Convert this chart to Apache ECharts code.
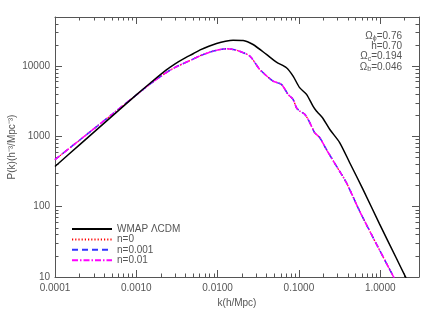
<!DOCTYPE html>
<html>
<head>
<meta charset="utf-8">
<script src="https://cdn.jsdelivr.net/npm/echarts@6/dist/echarts.min.js"></script>
<style>html,body{margin:0;padding:0;background:#fff}#c{width:436px;height:312px}</style>
</head>
<body>
<div id="c"></div>
<script>
// ---- data ----
const kBlack = [0.0001, 0.0002, 0.0005, 0.001, 0.0015, 0.0023, 0.003, 0.0038, 0.005, 0.0061, 0.0078, 0.0097, 0.0125, 0.0155, 0.0206, 0.0273, 0.0399, 0.0529, 0.0703, 0.0848, 0.102, 0.124, 0.149, 0.164, 0.180, 0.198, 0.239, 0.317, 0.420, 0.612, 0.980, 1.57, 2.04, 2.4];
const pBlack = [374, 759, 1930, 3900, 5800, 8700, 10800, 12700, 15000, 17000, 19200, 21000, 22600, 23400, 23200, 20300, 14660, 11400, 9490, 7210, 4940, 3970, 2700, 2300, 2050, 1800, 1265, 818, 426, 178, 57, 18.8, 10.1, 6.9];
const kColored = [0.0001, 0.0002, 0.0005, 0.001, 0.0015, 0.0023, 0.003, 0.0038, 0.005, 0.0061, 0.0088, 0.0129, 0.0171, 0.0249, 0.033, 0.0481, 0.061, 0.0735, 0.0847, 0.0931, 0.102, 0.118, 0.136, 0.156, 0.180, 0.217, 0.288, 0.383, 0.557, 0.811, 1.19, 1.43, 1.7];
const pN0    = [467, 883, 2050, 3880, 5640, 8000, 9600, 10900, 12600, 14050, 16300, 17650, 16870, 13870, 8980, 6120, 5500, 3970, 3370, 2570, 2300, 2070, 1575, 1135, 964, 658, 382, 221, 87, 37, 15.8, 10.5, 7.1];
const pN0001 = [467, 883, 2050, 3880, 5640, 8000, 9600, 10900, 12600, 14050, 16300, 17650, 16870, 13870, 8980, 6120, 5500, 3970, 3370, 2570, 2300, 2070, 1575, 1135, 964, 658, 382, 221, 87, 37, 15.8, 10.5, 7.1];
const pN001  = [467, 883, 2050, 3880, 5640, 8000, 9600, 10900, 12600, 14050, 16300, 17650, 16870, 13870, 8980, 6120, 5500, 3970, 3370, 2570, 2300, 2070, 1575, 1135, 964, 658, 382, 221, 87, 37, 15.8, 10.5, 7.1];
const seriesNames = ['WMAP ΛCDM', 'n=0', 'n=0.001', 'n=0.01'];
const xMajor = [0.0001, 0.001, 0.01, 0.1, 1];
const xMinor = [0.0002,0.0003,0.0004,0.0005,0.0006,0.0007,0.0008,0.0009,
                0.002,0.003,0.004,0.005,0.006,0.007,0.008,0.009,
                0.02,0.03,0.04,0.05,0.06,0.07,0.08,0.09,
                0.2,0.3,0.4,0.5,0.6,0.7,0.8,0.9,2,3];
const yMajor = [10, 100, 1000, 10000];
const yMinor = [20,30,40,50,60,70,80,90,200,300,400,500,600,700,800,900,
                2000,3000,4000,5000,6000,7000,8000,9000,20000,30000,40000,50000];
const params = [['Ω','ϕ','=0.76'], ['','','h=0.70'], ['Ω','c','=0.194'], ['Ω','b','=0.046']];

const zip = (a, b) => a.map((v, i) => [v, b[i]]);
const AX = '#555';
const FONT = 'Liberation Sans, Arial, sans-serif';
const X_MIN = 0.0001, X_MAX = 3, Y_MIN = 10, Y_MAX = 50000;

function xAx(pos, ticks, len, main) {
  return {
    type: 'log', logBase: 10, min: X_MIN, max: X_MAX, position: pos, gridIndex: 0,
    axisLine: { show: main, lineStyle: { color: AX, width: 1 } },
    axisTick: { show: true, inside: true, length: len, customValues: ticks, lineStyle: { color: AX } },
    axisLabel: main && pos === 'bottom' ? {
      show: true, customValues: xMajor, color: AX, fontSize: 10, fontFamily: FONT, margin: 6,
      formatter: v => Number(v).toFixed(4)
    } : { show: false },
    splitLine: { show: false }, minorTick: { show: false },
    name: main && pos === 'bottom' ? 'k(h/Mpc)' : '',
    nameLocation: 'middle', nameGap: 16,
    nameTextStyle: { color: AX, fontSize: 10, fontFamily: FONT }
  };
}
function yAx(pos, ticks, len, main) {
  return {
    type: 'log', logBase: 10, min: Y_MIN, max: Y_MAX, position: pos, gridIndex: 0,
    axisLine: { show: main, lineStyle: { color: AX, width: 1 } },
    axisTick: { show: true, inside: true, length: len, customValues: ticks, lineStyle: { color: AX } },
    axisLabel: main && pos === 'left' ? {
      show: true, customValues: yMajor, color: AX, fontSize: 10, fontFamily: FONT, margin: 5,
      formatter: v => String(Math.round(v))
    } : { show: false },
    splitLine: { show: false }, minorTick: { show: false },
    name: main && pos === 'left' ? 'P(k)(h⁻³/Mpc⁻³)' : '',
    nameLocation: 'middle', nameGap: 38, nameMoveOverlap: false,
    nameTextStyle: { color: AX, fontSize: 10, fontFamily: FONT }
  };
}

const chart = echarts.init(document.getElementById('c'), null, { renderer: 'canvas' });
const richTxt = {
  a: { fontSize: 10, fontFamily: FONT, fill: AX, color: AX },
  s: { fontSize: 7, fontFamily: FONT, fill: AX, color: AX, padding: [4, 0, 0, 0] }
};
const graphics = params.map((p, i) => ({
  type: 'text', right: 34, top: 31 + i * 10.3,
  style: {
    text: (p[0] ? '{a|' + p[0] + '}' : '') + (p[1] ? '{s|' + p[1] + '}' : '') + '{a|' + p[2] + '}',
    rich: richTxt, fill: AX, font: '10px ' + FONT
  }
}));

chart.setOption({
  animation: false,
  backgroundColor: '#fff',
  grid: { left: 55, right: 17, top: 17, bottom: 35, outerBoundsMode: 'none', containLabel: false },
  xAxis: [xAx('bottom', xMajor, 7, true), xAx('bottom', xMinor, 3.5, false),
          xAx('top', xMajor, 7, true), xAx('top', xMinor, 3.5, false)],
  yAxis: [yAx('left', yMajor, 7, true), yAx('left', yMinor, 3.5, false),
          yAx('right', yMajor, 7, true), yAx('right', yMinor, 3.5, false)],
  legend: {
    orient: 'vertical', left: 66, top: 219, itemWidth: 40, itemHeight: 10, itemGap: 0.4,
    data: seriesNames,
    itemStyle: { opacity: 0, borderWidth: 0 },
    textStyle: { color: AX, fontSize: 10, fontFamily: FONT, lineHeight: 10 }
  },
  graphic: graphics,
  series: [
    { name: seriesNames[1], type: 'line', data: zip(kColored, pN0), showSymbol: false, symbol: 'none', smooth: 0.25,
      lineStyle: { color: '#ff0000', width: 1.3, type: [1.2, 2] }, itemStyle: { color: '#ff0000' }, z: 3 },
    { name: seriesNames[2], type: 'line', data: zip(kColored, pN0001), showSymbol: false, symbol: 'none', smooth: 0.25,
      lineStyle: { color: '#3333ff', width: 1.5, type: [6, 4] }, itemStyle: { color: '#3333ff' }, z: 4 },
    { name: seriesNames[3], type: 'line', data: zip(kColored, pN001), showSymbol: false, symbol: 'none', smooth: 0.25,
      lineStyle: { color: '#ff00ff', width: 1.5, type: [6, 2, 1.5, 2] }, itemStyle: { color: '#ff00ff' }, z: 5 },
    { name: seriesNames[0], type: 'line', data: zip(kBlack, pBlack), showSymbol: false, symbol: 'none', smooth: 0.25,
      lineStyle: { color: '#000000', width: 1.5 }, itemStyle: { color: '#000000' }, z: 6 }
  ]
});
</script>
</body>
</html>
